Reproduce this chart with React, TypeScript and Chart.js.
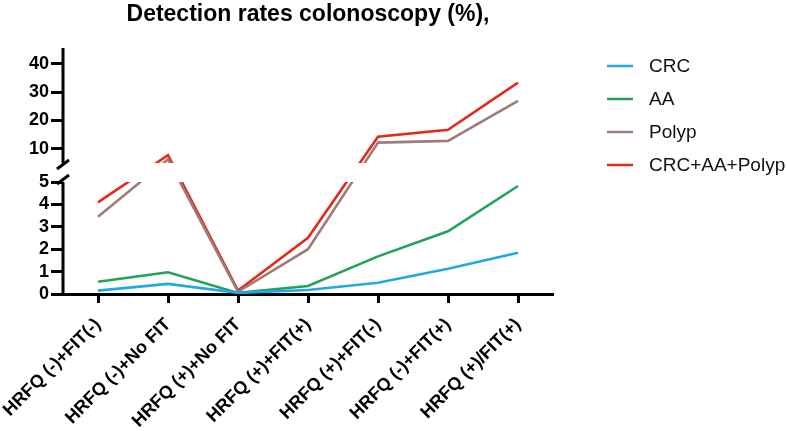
import React, { useEffect, useRef } from 'react';
import { Chart, LinearScale, registerables } from 'chart.js';

// ---------- data ----------
const categories = [
  'HRFQ (-)+FIT(-)',
  'HRFQ (-)+No FIT',
  'HRFQ (+)+No FIT',
  'HRFQ (+)+FIT(+)',
  'HRFQ (+)+FIT(-)',
  'HRFQ (-)+FIT(+)',
  'HRFQ (+)/FIT(+)',
];
const crc = [0.15, 0.45, 0.05, 0.18, 0.5, 1.13, 1.84];
const aa = [0.55, 0.97, 0.05, 0.36, 1.68, 2.8, 4.82];
const polyp = [3.45, 6.3, 0.1, 2.0, 12.2, 12.8, 26.9];
const crcAaPolyp = [4.09, 7.8, 0.15, 2.51, 14.3, 16.7, 33.4];

const seriesLabels = ['CRC', 'AA', 'Polyp', 'CRC+AA+Polyp'];
const seriesColors = ['#23A9E1', '#22A25B', '#9C7D7C', '#E5291F'];

const lowTicks = [0, 1, 2, 3, 4, 5];
const highTicks = [10, 20, 30, 40];
const titleText = 'Detection rates colonoscopy (%),';

// broken axis ranges
const LOW_MIN = 0;
const LOW_MAX = 5;
const HIGH_MIN = 5;
const HIGH_MAX = 45.6;
const LOW_FRAC = 112 / 246;
const GAP_FRAC = 19 / 246;

const FONT = 'Arial, "Liberation Sans", Helvetica, sans-serif';

class BrokenLinearScale extends LinearScale {
  static id = 'brokenLinear';
  static defaults = LinearScale.defaults;

  buildTicks() {
    return [...lowTicks, ...highTicks].map((value) => ({ value }));
  }

  _segs() {
    const h = this.bottom - this.top;
    const lowH = h * LOW_FRAC;
    const gapH = h * GAP_FRAC;
    return { lowH, gapH, highH: h - lowH - gapH };
  }

  getPixelForValue(value: any) {
    const v = Number(value);
    const { lowH, gapH, highH } = this._segs();
    if (v <= LOW_MAX) {
      return this.bottom - ((v - LOW_MIN) / (LOW_MAX - LOW_MIN)) * lowH;
    }
    return this.bottom - lowH - gapH - ((v - HIGH_MIN) / (HIGH_MAX - HIGH_MIN)) * highH;
  }

  getValueForPixel(pixel: number) {
    const { lowH, gapH, highH } = this._segs();
    const d = this.bottom - pixel;
    if (d <= lowH) return LOW_MIN + (d / lowH) * (LOW_MAX - LOW_MIN);
    if (d <= lowH + gapH) return LOW_MAX;
    return HIGH_MIN + ((d - lowH - gapH) / highH) * (HIGH_MAX - HIGH_MIN);
  }
}

Chart.register(...registerables, BrokenLinearScale);

const brokenAxisPlugin = {
  id: 'brokenAxis',
  afterDatasetsDraw(chart: any) {
    const { ctx, chartArea } = chart;
    const y = chart.scales.y;
    const lowTop = y.getPixelForValue(LOW_MAX);
    const highBottom = y.getPixelForValue(HIGH_MIN + 1e-9);
    const x = chartArea.left;
    ctx.save();
    ctx.fillStyle = '#ffffff';
    ctx.fillRect(x + 2, highBottom, chartArea.right - x + 4, lowTop - highBottom);
    ctx.strokeStyle = '#000000';
    ctx.lineWidth = 3;
    ctx.lineCap = 'butt';
    ctx.beginPath();
    ctx.moveTo(x, chartArea.top);
    ctx.lineTo(x, highBottom);
    ctx.moveTo(x, lowTop);
    ctx.lineTo(x, chartArea.bottom + 1.5);
    ctx.stroke();
    // break marks
    const slash = (cy: number) => {
      ctx.beginPath();
      ctx.moveTo(x - 6, cy + 4.5);
      ctx.lineTo(x + 6, cy - 4.5);
      ctx.stroke();
    };
    slash(highBottom + 1.5);
    slash(lowTop - 2.5);
    ctx.restore();
  },
};

const sideLegendPlugin = {
  id: 'sideLegend',
  afterDraw(chart: any) {
    const { ctx } = chart;
    ctx.save();
    ctx.font = `19px ${FONT}`;
    ctx.textBaseline = 'middle';
    ctx.textAlign = 'left';
    chart.data.datasets.forEach((ds: any, i: number) => {
      const cy = 66 + i * 33;
      ctx.strokeStyle = ds.borderColor;
      ctx.lineWidth = 2.5;
      ctx.beginPath();
      ctx.moveTo(607, cy);
      ctx.lineTo(633, cy);
      ctx.stroke();
      ctx.fillStyle = '#111111';
      ctx.fillText(ds.label, 649, cy + 1);
    });
    ctx.restore();
  },
};

export default function App() {
  const canvasRef = useRef<HTMLCanvasElement | null>(null);

  useEffect(() => {
    if (!canvasRef.current) return;
    Chart.defaults.font.family = FONT;
    const values = [crc, aa, polyp, crcAaPolyp];
    const chart = new Chart(canvasRef.current, {
      type: 'line',
      data: {
        labels: categories,
        datasets: values.map((data, i) => ({
          label: seriesLabels[i],
          data,
          borderColor: seriesColors[i],
          backgroundColor: seriesColors[i],
          borderWidth: 2.6,
          pointRadius: 0,
          tension: 0,
          fill: false,
        })),
      },
      options: {
        animation: false,
        responsive: true,
        maintainAspectRatio: false,
        layout: { padding: { top: 0, right: 234, bottom: 0, left: 0 } },
        plugins: {
          legend: { display: false },
          tooltip: { enabled: false },
          title: {
            display: true,
            text: titleText,
            fullSize: false,
            color: '#000000',
            font: { size: 23, weight: 'bold', family: FONT },
            padding: { top: 1, bottom: 19.4 },
          },
        },
        scales: {
          x: {
            type: 'category',
            offset: true,
            grid: {
              drawOnChartArea: false,
              drawTicks: true,
              tickLength: 9,
              tickWidth: 3,
              tickColor: '#000000',
              color: '#000000',
              offset: false,
            },
            border: { display: true, color: '#000000', width: 3 },
            ticks: {
              autoSkip: false,
              maxRotation: 45,
              minRotation: 45,
              padding: 11,
              color: '#000000',
              font: { size: 18, weight: 'bold', family: FONT },
            },
            afterFit: (scale: any) => {
              scale.height = 137;
              scale.paddingLeft = 0;
              scale.paddingRight = 0;
            },
          },
          y: {
            type: 'brokenLinear' as any,
            min: LOW_MIN,
            max: HIGH_MAX,
            grid: {
              drawOnChartArea: false,
              drawTicks: true,
              tickLength: 12,
              tickWidth: 3,
              tickColor: '#000000',
              color: '#000000',
            },
            border: { display: false },
            ticks: {
              autoSkip: false,
              padding: 2,
              color: '#000000',
              font: { size: 18, weight: 'bold', family: FONT },
              callback: (v: any) => String(v),
            },
            afterFit: (scale: any) => {
              scale.width = 63;
              scale.paddingTop = 0;
              scale.paddingBottom = 0;
            },
          },
        },
      },
      plugins: [brokenAxisPlugin, sideLegendPlugin],
    });
    return () => chart.destroy();
  }, []);

  return (
    <div style={{ position: 'absolute', left: 0, top: 0, width: 787, height: 431, background: '#fff' }}>
      <canvas ref={canvasRef} />
    </div>
  );
}
